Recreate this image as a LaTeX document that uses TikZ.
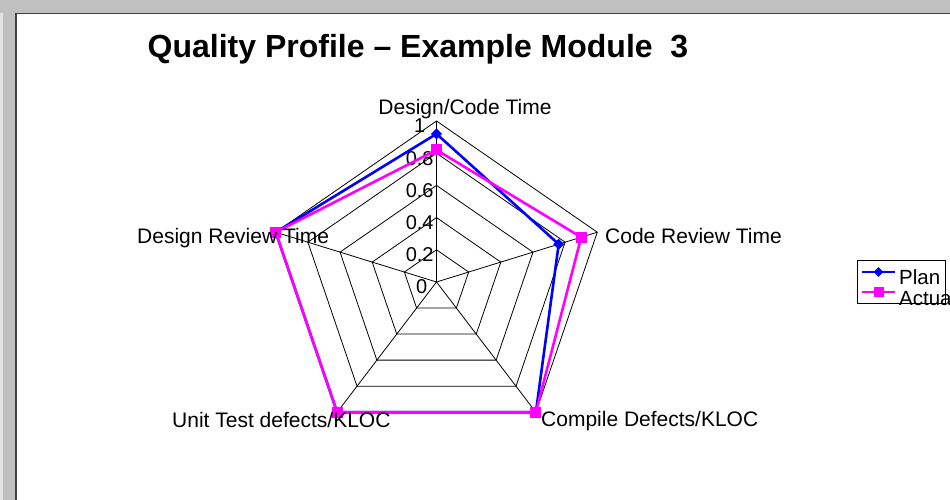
\documentclass[tikz,border=0pt]{standalone}
\usepackage{fontspec}
\setmainfont{Liberation Sans}
\usetikzlibrary{shapes.geometric}
\definecolor{panelgray}{HTML}{C0C0C0}
\definecolor{edgegray}{HTML}{E4E4E4}
\definecolor{framegray}{HTML}{404040}
\definecolor{planblue}{RGB}{0,0,255}
\definecolor{actualmagenta}{RGB}{255,0,255}
\begin{document}
\begin{tikzpicture}[x=1pt,y=1pt,
  axislabel/.style={font=\fontsize{21}{25}\selectfont, inner sep=0pt},
  ticklabel/.style={font=\fontsize{20}{24}\selectfont, inner sep=0pt},
  gridline/.style={black, line width=0.8pt},
  planline/.style={planblue, line width=2.6pt, line join=round},
  actualline/.style={actualmagenta, line width=2.6pt, line join=round},
  planmark/.style={diamond, fill=planblue, inner sep=0pt, minimum size=11pt},
  actualmark/.style={rectangle, fill=actualmagenta, inner sep=0pt, minimum size=11pt},
  legendtext/.style={font=\fontsize{20.5}{24}\selectfont, inner sep=0pt, anchor=base west}
]
\useasboundingbox (0,0) rectangle (950,500);
\clip (0,0) rectangle (950,500);

% window background and chart frame
\fill[white] (0,0) rectangle (950,500);
\fill[panelgray] (0,0) rectangle (15,500);
\fill[panelgray] (0,487) rectangle (950,500);
\fill[edgegray] (0,0) rectangle (3,487);
\draw[framegray, line width=1.5pt] (15.75,-5) |- (960,486.25);

% title
\node[font=\fontsize{32}{36}\selectfont\bfseries, inner sep=0pt, anchor=base]
  (title) at (418,442) {Quality Profile – Example Module~~3};

% radar chart
\begin{scope}[shift={(436.5,218)}, x=1.05pt]
  \coordinate (O) at (0,0);
  \foreach \k in {0,...,4}
    \coordinate (v\k) at ({90-72*\k}:161);
  % concentric pentagons
  \foreach \r in {0.2,0.4,0.6,0.8,1}
    \draw[gridline] (90:{161*\r}) -- (18:{161*\r}) -- (-54:{161*\r})
      -- (-126:{161*\r}) -- (-198:{161*\r}) -- cycle;
  % spokes
  \foreach \k in {0,...,4}
    \draw[gridline] (O) -- (v\k);
  % scale labels
  \node[ticklabel] (t0) at (-14,-5) {0};
  \foreach \r/\t/\n in {0.2/0.2/1,0.4/0.4/2,0.6/0.6/3,0.8/0.8/4,1/1/5}
    \node[ticklabel] (t\n) at (-16,{161*\r-5}) {\t};

  % plan series
  \foreach \k/\v in {0/0.92,1/0.76,2/1,3/1,4/1}
    \coordinate (pc\k) at ({90-72*\k}:{161*\v});
  \draw[planline] (pc0) -- (pc1) -- (pc2) -- (pc3) -- (pc4) -- cycle;
  \foreach \k in {0,...,4}
    \node[planmark] (pm\k) at (pc\k) {};

  % actual series
  \foreach \k/\v in {0/0.82,1/0.9,2/1,3/1,4/1}
    \coordinate (ac\k) at ({90-72*\k}:{161*\v});
  \draw[actualline] (ac0) -- (ac1) -- (ac2) -- (ac3) -- (ac4) -- cycle;
  \foreach \k in {0,...,4}
    \node[actualmark] (am\k) at (ac\k) {};
\end{scope}

% axis labels
\node[axislabel, anchor=base] (lab0) at (465,385) {Design/Code Time};
\node[axislabel, anchor=base west] (lab1) at (605,256) {Code Review Time};
\node[axislabel, anchor=base west] (lab2) at (541,73) {Compile Defects/KLOC};
\node[axislabel, anchor=base west] (lab3) at (172,72) {Unit Test defects/KLOC};
\node[axislabel, anchor=base west] (lab4) at (137,256) {Design Review Time};

% legend
\node[draw=black, line width=1pt, anchor=north west, inner sep=0pt,
      minimum width=88pt, minimum height=43pt] (legend) at (857,240) {};
\coordinate (lp1) at (862,228);
\coordinate (lp2) at (895,228);
\draw[planblue, line width=2.6pt] (lp1) -- (lp2);
\node[planmark, minimum size=10pt] (lpm) at (878.5,228) {};
\coordinate (la1) at (862,208);
\coordinate (la2) at (895,208);
\draw[actualmagenta, line width=2.6pt] (la1) -- (la2);
\node[actualmark, minimum size=10pt] (lam) at (878.5,208) {};
\node[legendtext] (lplan) at (899,215) {Plan};
\node[legendtext] (lactual) at (899,194) {Actual};
\end{tikzpicture}
\end{document}
